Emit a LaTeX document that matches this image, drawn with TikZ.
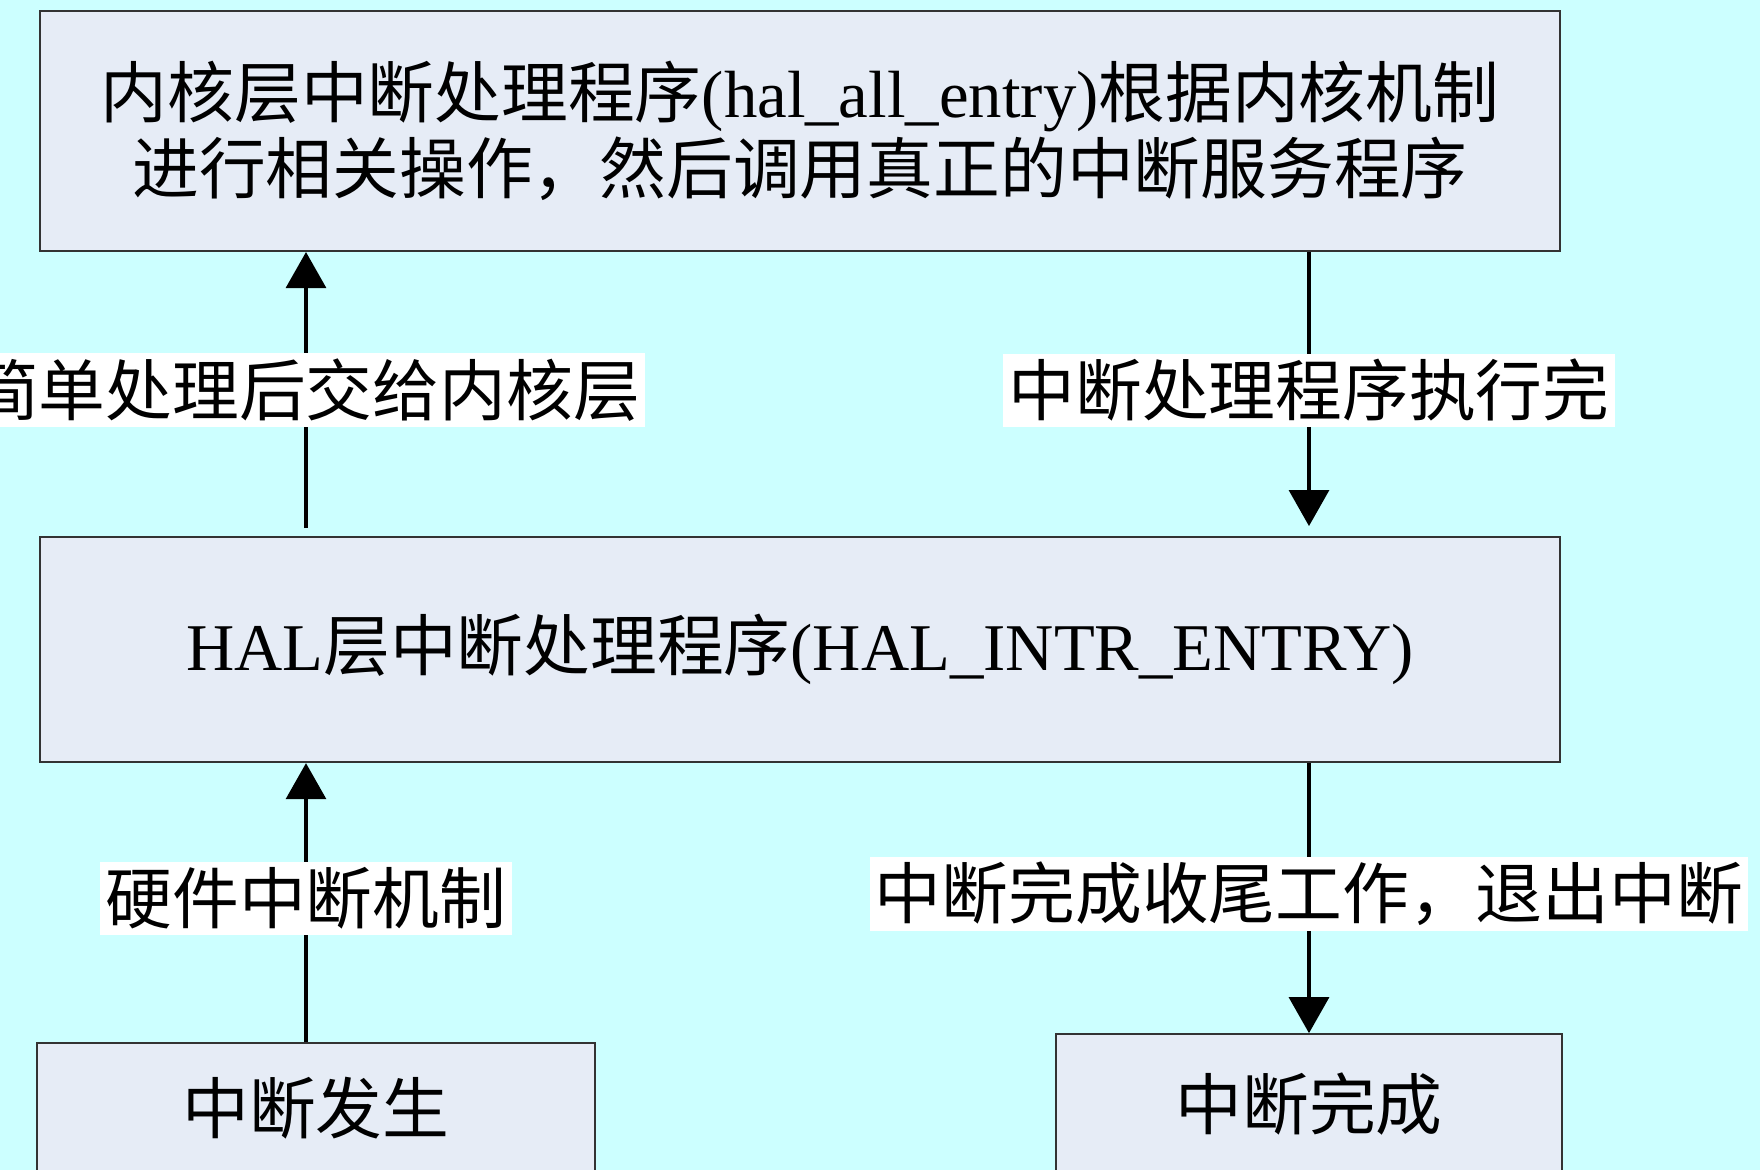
\documentclass[tikz,border=0pt]{standalone}
\usepackage{fontspec}
\setmainfont{Liberation Serif}
\newfontfamily\cjk{Noto Sans CJK SC}
\usepackage{tikz}
\usetikzlibrary{arrows.meta,positioning}
\usepackage{xcolor}
\definecolor{SlideCyan}{HTML}{CCFFFF}
\definecolor{BoxGrey}{HTML}{E6ECF6}
\definecolor{EdgeGrey}{HTML}{333333}
\newcommand{\zh}[1]{{\cjk #1}}
\tikzset{
    % Flat boxes of the interrupt flow
    layer/.style={
        rectangle,
        draw=EdgeGrey,
        line width=0.6pt,
        fill=BoxGrey,
        text=black,
        minimum width=15.2cm,
        inner sep=0pt,
        align=center,
        font=\fontsize{19}{21.6}\selectfont
    },
    endpoint/.style={
        layer,
        minimum width=5.58cm,
        minimum height=1.25cm
    },
    arrow/.style={
        -{Triangle[length=3.6mm,width=4mm]},
        line width=0.9pt,
        color=black
    },
    tag/.style={
        rectangle,
        draw=none,
        fill=white,
        text=black,
        inner xsep=1.5pt,
        inner ysep=1.5pt,
        yshift=0.4mm,
        font=\cjk\fontsize{19}{21.6}\selectfont
    }
}

\begin{document}
\begin{tikzpicture}
        % Slide background
        \fill[SlideCyan] (0,0) rectangle (17.6,-11.7);
        \useasboundingbox (0,0) rectangle (17.6,-11.7);

        % Layers
        \node[layer, minimum height=2.4cm] (kernel) at (8.0,-1.31)
              {\zh{内核层中断处理程序}(hal\_all\_entry)\zh{根据内核机制}\\
               \zh{进行相关操作，然后调用真正的中断服务程序}};
        \node[layer, minimum height=2.25cm, below=2.84cm of kernel] (hal)
              {HAL\zh{层中断处理程序}(HAL\_INTR\_ENTRY)};

        % Start and end
        \node[endpoint, minimum height=1.3cm, below right=2.79cm and -0.03cm of hal.south west] (occur) {\zh{中断发生}};
        \node[endpoint, minimum width=5.06cm, minimum height=1.39cm,
              below left=2.70cm and -0.02cm of hal.south east] (done) {\zh{中断完成}};

        % Arrow columns
        \coordinate (lx) at (3.06,0);
        \coordinate (rx) at (13.09,0);

        % Arrows
        \draw[arrow] (occur.north -| lx) -- node[tag] {硬件中断机制} (hal.south -| lx);
        \draw[arrow, shorten <=0.08cm] (hal.north -| lx) -- node[tag] {简单处理后交给内核层} (kernel.south -| lx);
        \draw[arrow, shorten >=0.1cm] (kernel.south -| rx) -- node[tag] {中断处理程序执行完} (hal.north -| rx);
        \draw[arrow] (hal.south -| rx) -- node[tag] {中断完成收尾工作，退出中断} (done.north -| rx);
    \end{tikzpicture}
\end{document}
